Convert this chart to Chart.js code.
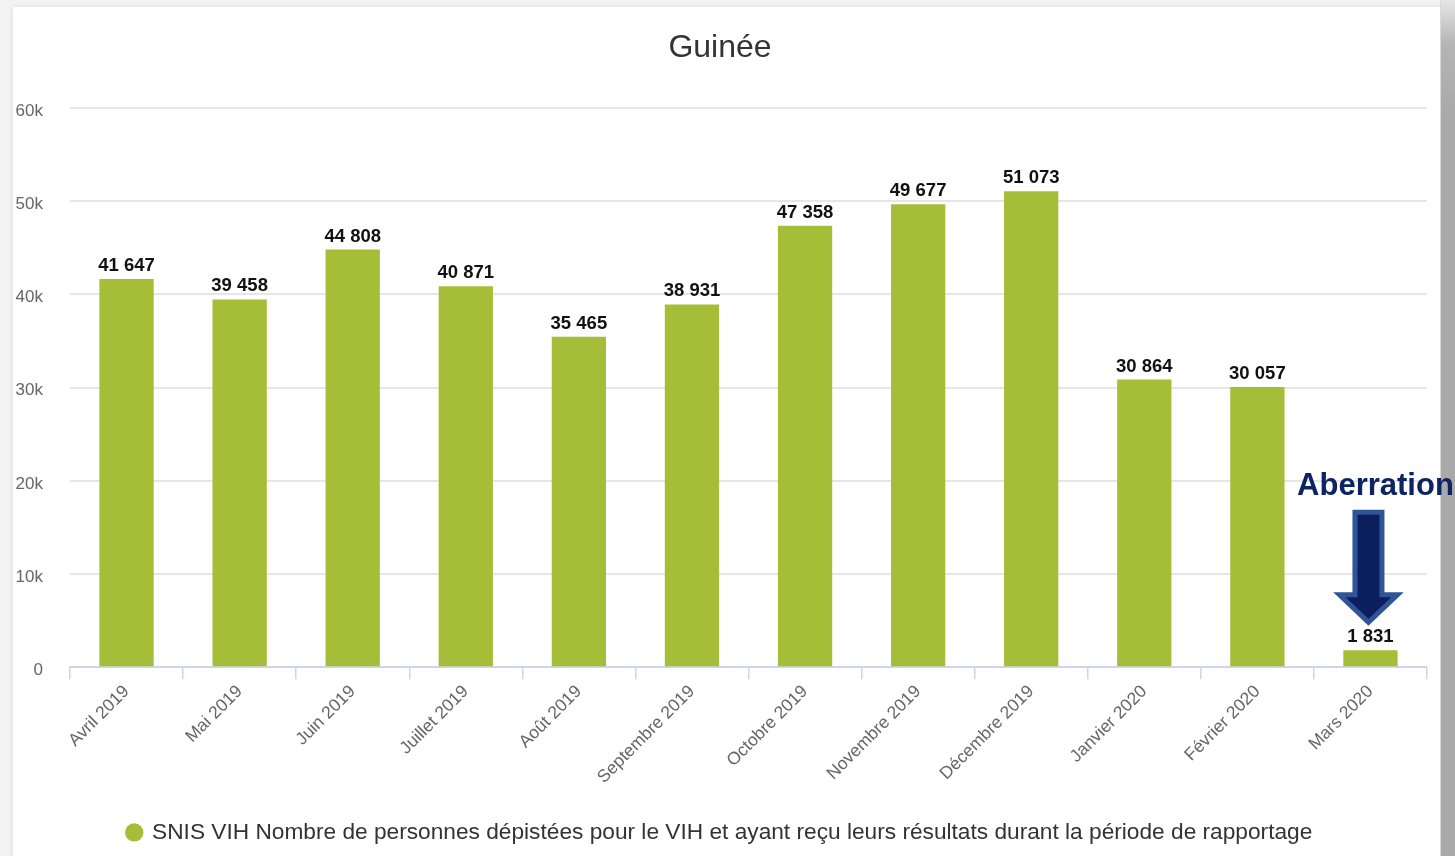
<!DOCTYPE html>
<html lang="fr">
<head>
<meta charset="utf-8">
<title>Guinée – dépistage VIH</title>
<script src="https://cdn.jsdelivr.net/npm/chart.js@4.4.1/dist/chart.umd.min.js"></script>
<style>
  html, body { margin: 0; padding: 0; }
  body { width: 1455px; height: 856px; background: #f3f3f3; position: relative; overflow: hidden; }
  .card { position: absolute; left: 13px; top: 7px; width: 1427px; height: 860px; background: #fff;
          box-shadow: 0 0 5px rgba(0,0,0,0.10); }
  .edge { position: absolute; left: 1440px; top: 0; width: 15px; height: 856px;
          background: linear-gradient(to bottom, #e6e6e6 0px, #b4b4b4 45px, #a9a9a9 120px, #a9a9a9 100%);
          border-left: 1px solid #d8d8d8; }
  canvas { position: absolute; left: 0; top: 0; }
</style>
</head>
<body>
<div class="card"></div>
<div class="edge"></div>
<canvas id="chart" width="1455" height="856"></canvas>
<script>
// Monthly counts, April 2019 – March 2020
const months = ['Avril 2019', 'Mai 2019', 'Juin 2019', 'Juillet 2019', 'Août 2019', 'Septembre 2019',
                'Octobre 2019', 'Novembre 2019', 'Décembre 2019', 'Janvier 2020', 'Février 2020', 'Mars 2020'];
const depistes = [41647, 39458, 44808, 40871, 35465, 38931, 47358, 49677, 51073, 30864, 30057, 1831];
const seriesName = 'SNIS VIH Nombre de personnes dépistées pour le VIH et ayant reçu leurs résultats durant la période de rapportage';
const yTicks = [0, 10000, 20000, 30000, 40000, 50000, 60000];
const flagged = [{ index: 11, text: 'Aberration' }];

const FONT = '"Liberation Sans", Arial, Helvetica, sans-serif';
const fmt = v => String(v).replace(/\B(?=(\d{3})+(?!\d))/g, ' ');

// Value labels above each bar
const valueLabels = {
  id: 'valueLabels',
  afterDatasetsDraw(chart) {
    const { ctx } = chart;
    const meta = chart.getDatasetMeta(0);
    ctx.save();
    ctx.font = 'bold 18.5px ' + FONT;
    ctx.fillStyle = '#111';
    ctx.textAlign = 'center';
    ctx.textBaseline = 'alphabetic';
    meta.data.forEach((bar, i) => {
      ctx.fillText(fmt(chart.data.datasets[0].data[i]), bar.x, bar.y - 8);
    });
    ctx.restore();
  }
};

// Callout arrow pointing down at a flagged bar
const callout = {
  id: 'callout',
  afterDraw(chart) {
    const { ctx } = chart;
    const meta = chart.getDatasetMeta(0);
    flagged.forEach(f => {
      const bar = meta.data[f.index];
      const cx = bar.x - 2;
      const tip = bar.y - 28;
      const headTop = tip - 27.5;
      const shaftTop = tip - 110;
      const sw = 13.5, hw = 29;
      ctx.save();
      ctx.beginPath();
      ctx.moveTo(cx - sw, shaftTop);
      ctx.lineTo(cx + sw, shaftTop);
      ctx.lineTo(cx + sw, headTop);
      ctx.lineTo(cx + hw, headTop);
      ctx.lineTo(cx, tip);
      ctx.lineTo(cx - hw, headTop);
      ctx.lineTo(cx - sw, headTop);
      ctx.closePath();
      ctx.fillStyle = '#0b1f5e';
      ctx.fill();
      ctx.lineWidth = 5;
      ctx.lineJoin = 'miter';
      ctx.strokeStyle = '#2f5597';
      ctx.stroke();
      ctx.font = 'bold 31px ' + FONT;
      ctx.fillStyle = '#0d2362';
      ctx.textAlign = 'center';
      ctx.textBaseline = 'alphabetic';
      ctx.fillText(f.text, cx + 7, shaftTop - 17);
      ctx.restore();
    });
  }
};

new Chart(document.getElementById('chart'), {
  type: 'bar',
  data: {
    labels: months,
    datasets: [{
      label: seriesName,
      data: depistes,
      backgroundColor: '#a6bd38',
      borderWidth: 0,
      categoryPercentage: 1,
      barPercentage: 0.48
    }]
  },
  options: {
    responsive: false,
    animation: false,
    devicePixelRatio: 1,
    layout: { padding: { left: 13, right: 28, top: 0, bottom: 2.25 } },
    plugins: {
      title: {
        display: true,
        text: 'Guinée',
        color: '#333',
        font: { family: FONT, size: 32, weight: 'normal', lineHeight: 1.2 },
        padding: { top: 28.8, bottom: 40.8 }
      },
      legend: {
        position: 'bottom',
        align: 'center',
        labels: {
          usePointStyle: true,
          pointStyle: 'circle',
          boxWidth: 13,
          boxHeight: 13,
          padding: 4.5,
          color: '#333',
          font: { family: FONT, size: 22.7 }
        }
      },
      tooltip: { enabled: false }
    },
    scales: {
      x: {
        grid: { display: true, offset: true, drawOnChartArea: false, drawTicks: true, tickLength: 12,
                color: '#ccd6eb', lineWidth: 1.5 },
        border: { display: true, color: '#ccd6eb', width: 2 },
        ticks: { minRotation: 45, maxRotation: 45, autoSkip: false, padding: 2, color: '#666',
                 font: { family: FONT, size: 17.5 } },
        afterFit(scale) { scale.height = 149.25; }
      },
      y: {
        min: 0,
        max: 60000,
        afterBuildTicks(scale) { scale.ticks = yTicks.map(v => ({ value: v })); },
        grid: { color: '#e6e6e6', lineWidth: 2, drawTicks: false },
        border: { display: false },
        ticks: { padding: 27, labelOffset: 3, color: '#666', font: { family: FONT, size: 17 },
                 callback: v => v === 0 ? '0' : (v / 1000) + 'k' },
        afterFit(scale) { scale.width = 57; }
      }
    }
  },
  plugins: [valueLabels, callout]
});
</script>
</body>
</html>
